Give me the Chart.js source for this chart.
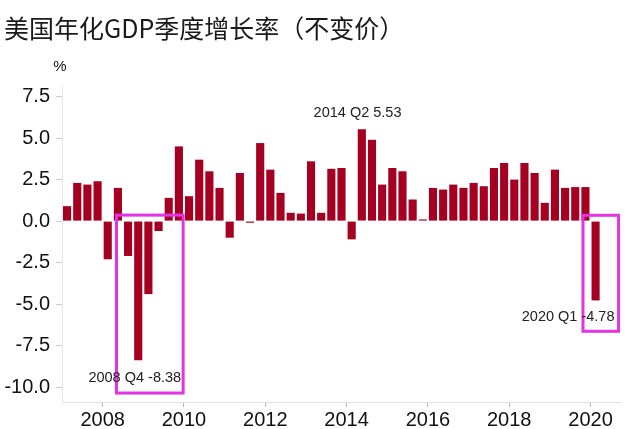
<!DOCTYPE html>
<html>
<head>
<meta charset="utf-8">
<script src="https://cdn.jsdelivr.net/npm/chart.js@4/dist/chart.umd.min.js"></script>
<style>
  html, body { margin: 0; padding: 0; background: #ffffff; }
  #wrap { width: 640px; height: 429px; position: relative; }
</style>
</head>
<body>
<div id="wrap"><canvas id="c" width="640" height="429"></canvas></div>
<script>
// ---- data ----
const quarters = [
  '2007 Q1','2007 Q2','2007 Q3','2007 Q4',
  '2008 Q1','2008 Q2','2008 Q3','2008 Q4',
  '2009 Q1','2009 Q2','2009 Q3','2009 Q4',
  '2010 Q1','2010 Q2','2010 Q3','2010 Q4',
  '2011 Q1','2011 Q2','2011 Q3','2011 Q4',
  '2012 Q1','2012 Q2','2012 Q3','2012 Q4',
  '2013 Q1','2013 Q2','2013 Q3','2013 Q4',
  '2014 Q1','2014 Q2','2014 Q3','2014 Q4',
  '2015 Q1','2015 Q2','2015 Q3','2015 Q4',
  '2016 Q1','2016 Q2','2016 Q3','2016 Q4',
  '2017 Q1','2017 Q2','2017 Q3','2017 Q4',
  '2018 Q1','2018 Q2','2018 Q3','2018 Q4',
  '2019 Q1','2019 Q2','2019 Q3','2019 Q4',
  '2020 Q1'
];
const gdpGrowth = [
  0.9, 2.3, 2.2, 2.4,
  -2.3, 2.0, -2.1, -8.38,
  -4.4, -0.6, 1.4, 4.5,
  1.5, 3.7, 3.0, 2.0,
  -1.0, 2.9, -0.1, 4.7,
  3.1, 1.7, 0.5, 0.45,
  3.6, 0.5, 3.15, 3.2,
  -1.1, 5.53, 4.9, 2.2,
  3.2, 3.0, 1.3, 0.1,
  2.0, 1.9, 2.2, 2.0,
  2.3, 2.1, 3.2, 3.5,
  2.5, 3.5, 2.9, 1.1,
  3.1, 2.0, 2.05, 2.05,
  -4.78
];
const yearTicks = [2008, 2010, 2012, 2014, 2016, 2018, 2020];
const yTicks = [-10, -7.5, -5, -2.5, 0, 2.5, 5, 7.5];
const titleText = '美国年化GDP季度增长率（不变价）';
const unitText = '%';
const highlightQuarters = ['2008 Q4', '2014 Q2', '2020 Q1'];

// annotation placement (data units)
const labelPlacement = {
  '2008 Q4': { x: 2008.79, y: -9.46 },
  '2014 Q2': { x: 2014.27, y: 6.5 },
  '2020 Q1': { x: 2019.45, y: -5.78 }
};
const boxes = [
  { xMin: 2008.34, xMax: 2009.98, yMin: -10.36, yMax: 0.36 },
  { xMin: 2019.815, xMax: 2020.69, yMin: -6.64, yMax: 0.35 }
];

function quarterToX(q) {
  const parts = q.split(' Q');
  return Number(parts[0]) + (Number(parts[1]) - 1) * 0.25 + 0.125;
}
const points = quarters.map((q, i) => ({ x: quarterToX(q), y: gdpGrowth[i] }));

const BAR = '#A50021';
const AXIS_FONT = '"Liberation Sans", Arial, sans-serif';

const overlay = {
  id: 'overlay',
  afterDatasetsDraw(chart) {
    const ctx = chart.ctx;
    const xs = chart.scales.x, ys = chart.scales.y;
    ctx.save();
    // boxes
    ctx.strokeStyle = '#E433E4';
    ctx.lineWidth = 3;
    boxes.forEach(b => {
      const x1 = xs.getPixelForValue(b.xMin), x2 = xs.getPixelForValue(b.xMax);
      const y1 = ys.getPixelForValue(b.yMax), y2 = ys.getPixelForValue(b.yMin);
      ctx.strokeRect(x1, y1, x2 - x1, y2 - y1);
    });
    // labels
    ctx.fillStyle = '#222222';
    ctx.font = '14.5px ' + AXIS_FONT;
    ctx.textAlign = 'center';
    ctx.textBaseline = 'middle';
    highlightQuarters.forEach(q => {
      const v = gdpGrowth[quarters.indexOf(q)];
      const p = labelPlacement[q];
      ctx.fillText(q + ' ' + v.toFixed(2), xs.getPixelForValue(p.x), ys.getPixelForValue(p.y));
    });
    // unit
    ctx.font = '15px ' + AXIS_FONT;
    ctx.fillStyle = '#111111';
    ctx.fillText(unitText, xs.left - 2, chart.chartArea.top - 18);
    // title
    ctx.font = '25px "Noto Sans CJK SC", sans-serif';
    ctx.textAlign = 'left';
    ctx.fillStyle = '#1a1a1a';
    ctx.fillText(titleText, 4, 28);
    ctx.restore();
  }
};

new Chart(document.getElementById('c'), {
  type: 'bar',
  data: {
    datasets: [{
      data: points,
      backgroundColor: BAR,
      borderWidth: 0,
      barPercentage: 0.8,
      categoryPercentage: 1.0
    }]
  },
  options: {
    responsive: false,
    animation: false,
    layout: { padding: { top: 85, right: 19, left: 0, bottom: 0 } },
    plugins: { legend: { display: false }, tooltip: { enabled: false } },
    scales: {
      x: {
        type: 'linear',
        min: 2007,
        max: 2020.75,
        offset: false,
        afterBuildTicks: s => { s.ticks = yearTicks.map(v => ({ value: v })); },
        afterFit: s => { s.height = 27; },
        grid: { offset: false, drawOnChartArea: false, drawTicks: true, tickLength: 5, color: '#bbbbbb' },
        border: { display: true, color: '#e2e2e2', width: 1 },
        ticks: {
          padding: 1,
          color: '#111111',
          font: { family: AXIS_FONT, size: 20 },
          callback: v => String(v),
          maxRotation: 0,
          autoSkip: false
        }
      },
      y: {
        min: -10.9,
        max: 8.2,
        afterBuildTicks: s => { s.ticks = yTicks.map(v => ({ value: v })); },
        afterFit: s => { s.width = 62; },
        grid: { drawOnChartArea: false, drawTicks: true, tickLength: 6, color: '#cccccc' },
        border: { display: true, color: '#e8e8e8', width: 1 },
        ticks: {
          padding: 6,
          color: '#111111',
          font: { family: AXIS_FONT, size: 20 },
          callback: v => Number(v).toFixed(1),
          autoSkip: false
        }
      }
    }
  },
  plugins: [overlay]
});
</script>
</body>
</html>
